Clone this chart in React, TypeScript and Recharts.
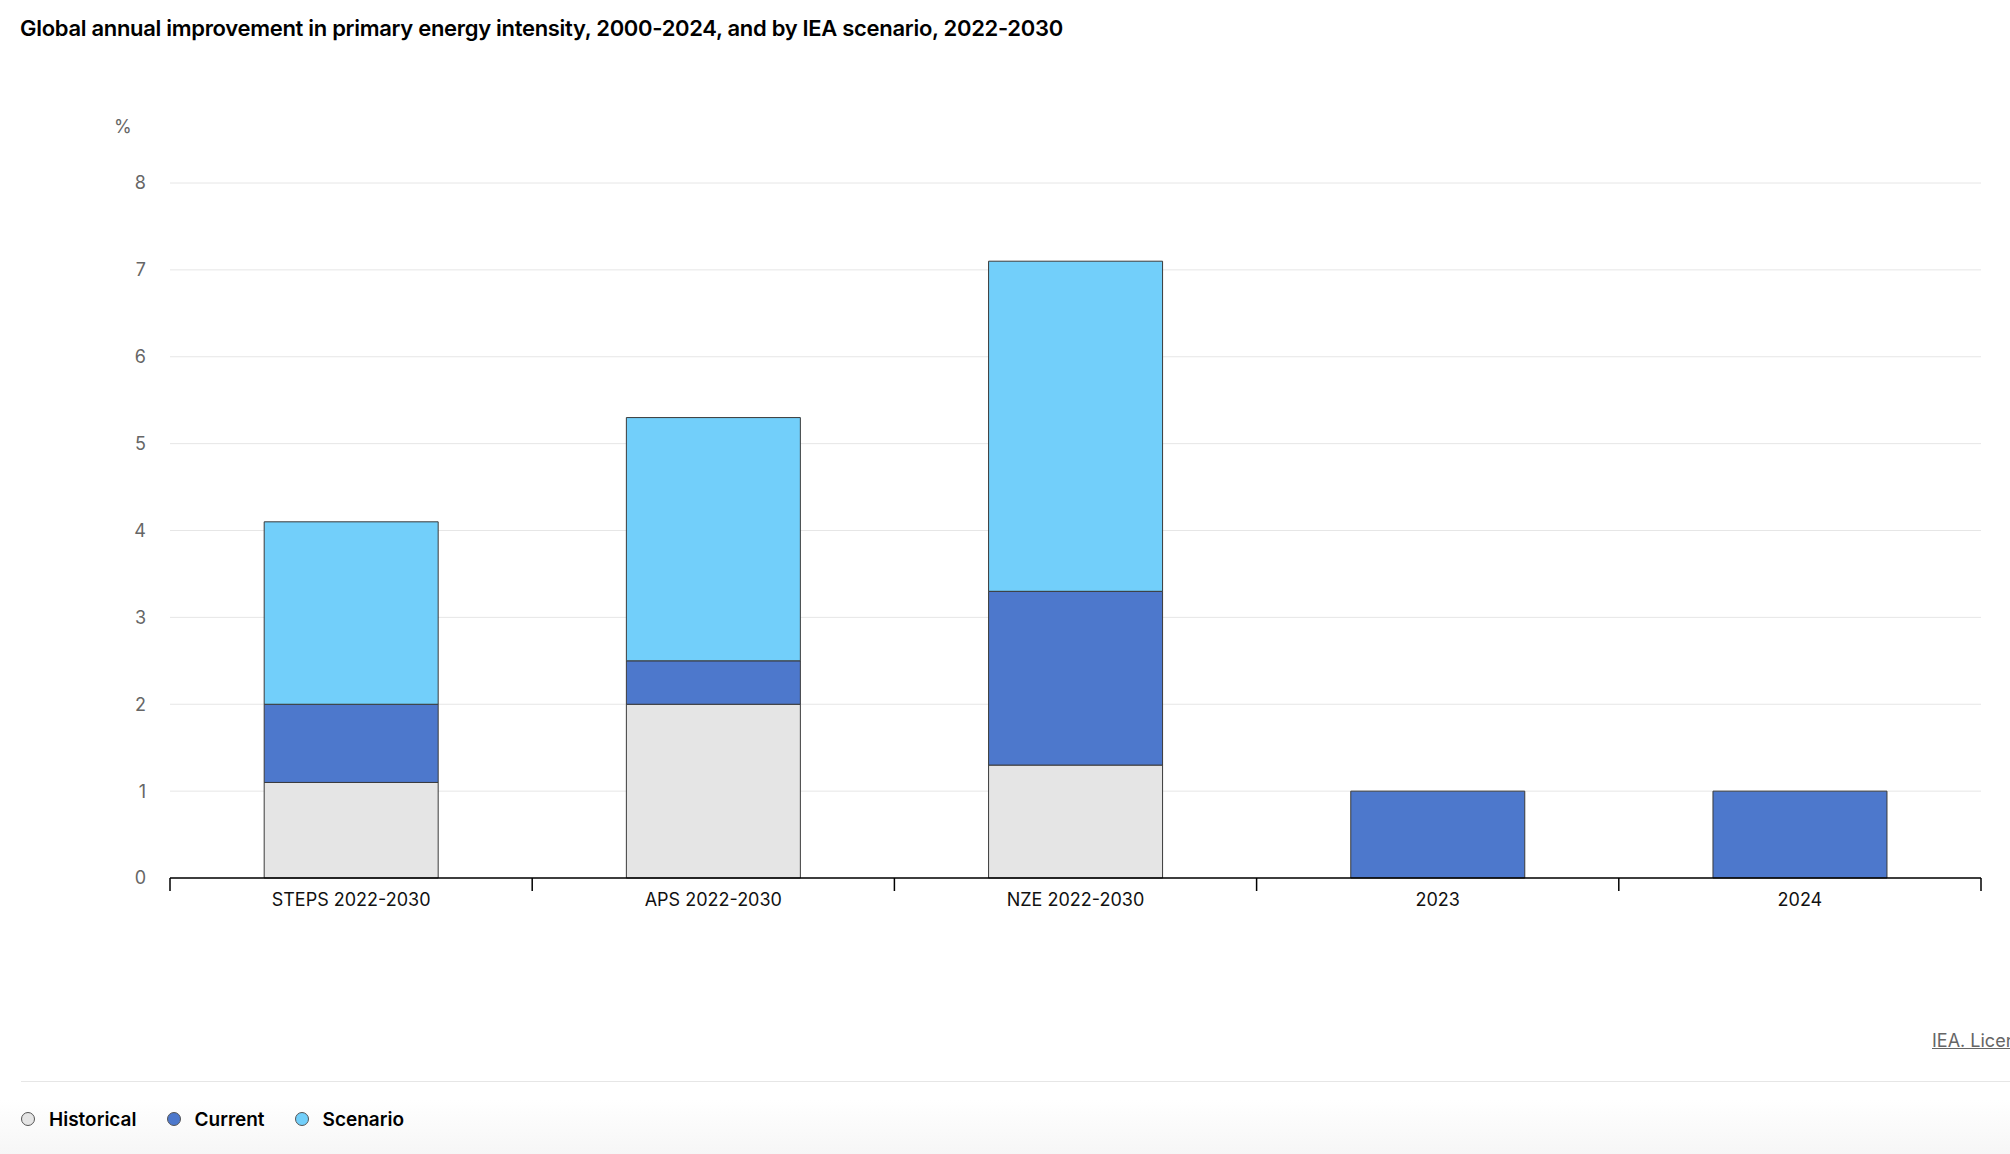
import React from "react"
import { BarChart, Bar, XAxis, YAxis, CartesianGrid } from "recharts"

const categories = ["STEPS 2022-2030", "APS 2022-2030", "NZE 2022-2030", "2023", "2024"]
const historical = [1.1, 2.0, 1.3, 0, 0]
const current = [0.9, 0.5, 2.0, 1.0, 1.0]
const scenario = [2.1, 2.8, 3.8, 0, 0]
const yTicks = [0, 1, 2, 3, 4, 5, 6, 7, 8]

const series = [
  { key: "historical", name: "Historical", color: "#e5e5e5" },
  { key: "current", name: "Current", color: "#4d78cc" },
  { key: "scenario", name: "Scenario", color: "#72cffa" },
]

const data = categories.map((c, i) => ({
  name: c,
  historical: historical[i] || null,
  current: current[i] || null,
  scenario: scenario[i] || null,
}))

const FONT = "Inter, 'Open Sans', sans-serif"

// label plus the tick marks, which sit on category boundaries
function XTick(props: any) {
  const { x, y, payload, index, width } = props
  const catW = width / categories.length
  const left = x - catW / 2
  return (
    <g>
      <line x1={left} x2={left} y1={y - 8} y2={y + 5} stroke="#000" strokeWidth={1.5} />
      {index === categories.length - 1 && (
        <line x1={left + catW} x2={left + catW} y1={y - 8} y2={y + 5} stroke="#000" strokeWidth={1.5} />
      )}
      <text x={x} y={y + 7} dy="0.71em" textAnchor="middle" fill="#111" fontSize={18} fontFamily={FONT}>
        {payload.value}
      </text>
    </g>
  )
}

export default function App() {
  return (
    <div
      style={{
        position: "absolute",
        top: 0,
        left: 0,
        width: 2010,
        height: 1154,
        overflow: "hidden",
        background: "#fff",
        fontFamily: FONT,
      }}
    >
      <div style={{ position: "absolute", left: 20, top: 15, fontSize: 22, fontWeight: 600, color: "#000", letterSpacing: -0.3 }}>
        Global annual improvement in primary energy intensity, 2000-2024, and by IEA scenario, 2022-2030
      </div>
      <div style={{ position: "absolute", left: 114, top: 116, fontSize: 18, color: "#666" }}>%</div>

      <div style={{ position: "absolute", left: 0, top: 0 }}>
        <BarChart
          width={2010}
          height={1000}
          data={data}
          margin={{ top: 183, right: 29, left: 0, bottom: 62 }}
          barCategoryGap="26%"
        >
          <CartesianGrid vertical={false} stroke="#e6e6e6" />
          <XAxis
            dataKey="name"
            height={60}
            axisLine={{ stroke: "#000", strokeWidth: 1.5 }}
            tickLine={false}
            tick={<XTick />}
            interval={0}
          />
          <YAxis
            width={170}
            domain={[0, 8]}
            ticks={yTicks}
            axisLine={false}
            tickLine={false}
            tickMargin={18}
            tick={{ fill: "#666", fontSize: 18, fontFamily: FONT }}
          />
          {series.map((s) => (
            <Bar
              key={s.key}
              dataKey={s.key}
              name={s.name}
              stackId="a"
              fill={s.color}
              stroke="#3a3a3a"
              strokeWidth={1}
              isAnimationActive={false}
            />
          ))}
        </BarChart>
      </div>

      <div
        style={{
          position: "absolute",
          left: 1932,
          top: 1030,
          fontSize: 18,
          color: "#666",
          textDecoration: "underline",
          whiteSpace: "nowrap",
        }}
      >
        IEA. Licence: CC BY 4.0
      </div>

      <div style={{ position: "absolute", left: 21, right: 0, top: 1081, height: 1, background: "#e6e6e6" }} />
      <div
        style={{
          position: "absolute",
          left: 0,
          right: 0,
          top: 1100,
          bottom: 0,
          background: "linear-gradient(to bottom, rgba(255,255,255,0), rgba(240,240,240,0.6))",
        }}
      />
      <div style={{ position: "absolute", left: 21, top: 1106, display: "flex", alignItems: "center", height: 26 }}>
        {series.map((s) => (
          <div key={s.key} style={{ display: "flex", alignItems: "center", marginRight: 30 }}>
            <span
              style={{
                width: 12,
                height: 12,
                borderRadius: "50%",
                background: s.color,
                border: "1px solid #555",
                marginRight: 14,
              }}
            />
            <span style={{ fontSize: 19, fontWeight: 600, color: "#000" }}>{s.name}</span>
          </div>
        ))}
      </div>
    </div>
  )
}
